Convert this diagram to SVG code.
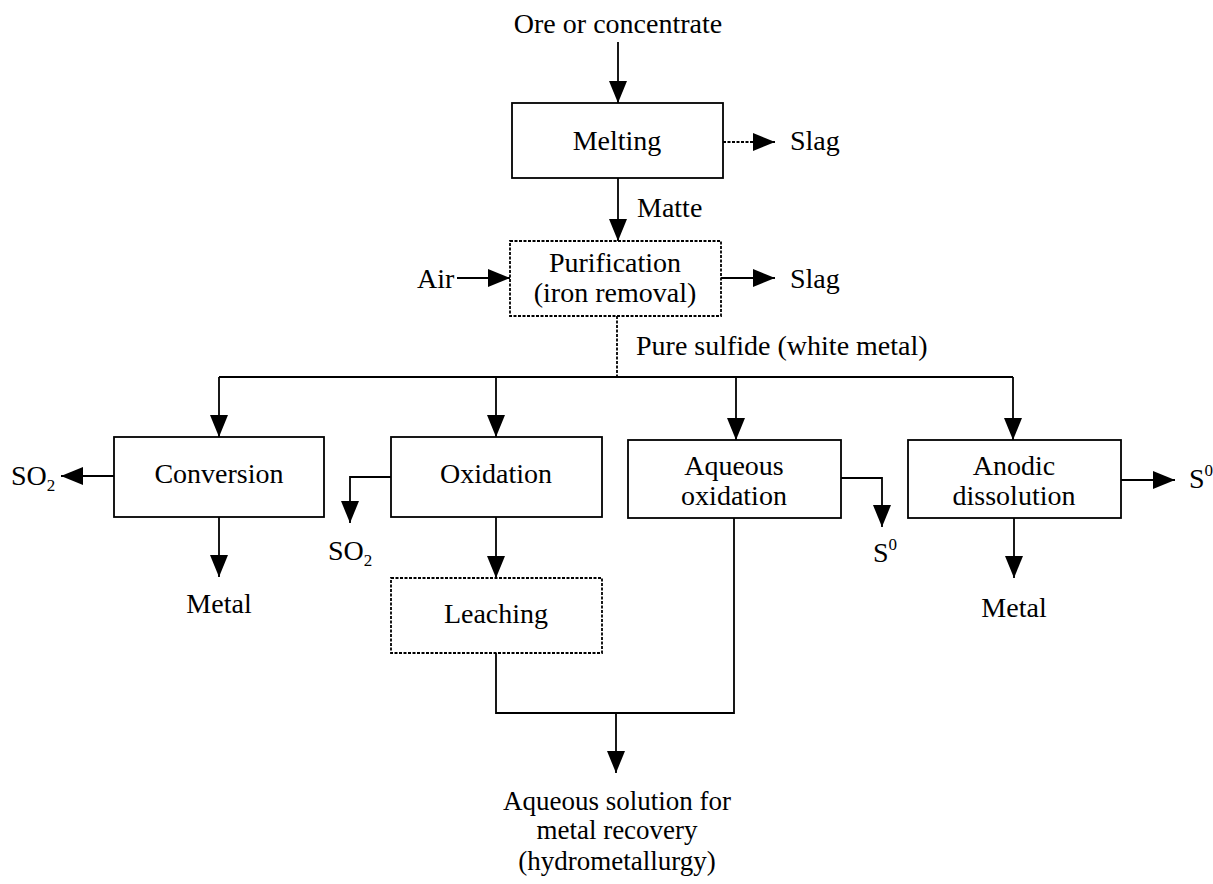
<svg xmlns="http://www.w3.org/2000/svg" width="1213" height="884" viewBox="0 0 1213 884">
<defs>
<marker id="ah" markerUnits="userSpaceOnUse" markerWidth="24" markerHeight="20" refX="22" refY="9" orient="auto">
<path d="M0,0 L22,9 L0,18 z" fill="#000"/>
</marker>
<style>
text{font-family:"Liberation Serif","Times New Roman",serif;font-size:28px;fill:#000}
.c{text-anchor:middle}
.box{fill:#fff;stroke:#000;stroke-width:1.8}
.dot{stroke-dasharray:3 1.5}
.ln{fill:none;stroke:#000;stroke-width:1.8}
.ar{marker-end:url(#ah)}
.sub{font-size:17px}
.sm{font-size:27px}
</style>
</defs>
<rect width="1213" height="884" fill="#fff"/>
<g id="connectors">
<line class="ln ar" x1="618" y1="42" x2="618" y2="103"/>
<line class="ln ar dot" x1="723" y1="142" x2="775" y2="142"/>
<line class="ln ar" x1="618" y1="178" x2="618" y2="241"/>
<line class="ln ar" x1="457" y1="278" x2="510" y2="278"/>
<line class="ln ar" x1="721" y1="278" x2="775" y2="278"/>
<line class="ln dot" x1="617" y1="316" x2="617" y2="377"/>
<line class="ln" x1="219" y1="377" x2="1013" y2="377"/>
<line class="ln ar" x1="219" y1="377" x2="219" y2="437"/>
<line class="ln ar" x1="496" y1="377" x2="496" y2="437"/>
<line class="ln ar" x1="736" y1="377" x2="736" y2="440"/>
<line class="ln ar" x1="1013" y1="377" x2="1013" y2="440"/>
<line class="ln ar" x1="114" y1="476" x2="61" y2="476"/>
<line class="ln ar" x1="219" y1="517" x2="219" y2="577"/>
<polyline class="ln ar" points="391,477 350,477 350,523"/>
<line class="ln ar" x1="496" y1="517" x2="496" y2="578"/>
<polyline class="ln ar" points="841,478 882,478 882,527"/>
<line class="ln ar" x1="1121" y1="480" x2="1175" y2="480"/>
<line class="ln ar" x1="1014" y1="518" x2="1014" y2="578"/>
<polyline class="ln" points="496,653 496,713 734,713 734,518"/>
<line class="ln ar" x1="616" y1="713" x2="616" y2="773"/>
</g>
<g id="ore"><text class="c" x="618" y="33">Ore or concentrate</text></g>
<g id="melting"><rect class="box" x="512" y="103" width="211" height="75"/><text class="c" x="617" y="150">Melting</text></g>
<g id="slag1"><text x="790" y="150">Slag</text></g>
<g id="matte"><text x="637" y="217">Matte</text></g>
<g id="purification"><rect class="box dot" x="510" y="241" width="211" height="75"/><text class="c" x="615" y="272">Purification</text><text class="c" x="615" y="302">(iron removal)</text></g>
<g id="air"><text x="417" y="288">Air</text></g>
<g id="slag2"><text x="790" y="288">Slag</text></g>
<g id="puresulfide"><text x="636" y="355">Pure sulfide (white metal)</text></g>
<g id="conversion"><rect class="box" x="114" y="437" width="210" height="80"/><text class="c" x="219" y="483">Conversion</text></g>
<g id="so2a"><text x="11" y="485">SO<tspan class="sub" dy="6">2</tspan></text></g>
<g id="metal1"><text class="c" x="219" y="613">Metal</text></g>
<g id="oxidation"><rect class="box" x="391" y="437" width="211" height="80"/><text class="c" x="496" y="483">Oxidation</text></g>
<g id="so2b"><text x="328" y="560">SO<tspan class="sub" dy="6">2</tspan></text></g>
<g id="leaching"><rect class="box dot" x="391" y="578" width="211" height="75"/><text class="c" x="496" y="623">Leaching</text></g>
<g id="aqueous"><rect class="box" x="628" y="440" width="213" height="78"/><text class="c" x="734" y="475">Aqueous</text><text class="c" x="734" y="505">oxidation</text></g>
<g id="s0a"><text x="873" y="562">S<tspan class="sub" dy="-12">0</tspan></text></g>
<g id="anodic"><rect class="box" x="908" y="440" width="213" height="78"/><text class="c" x="1014" y="475">Anodic</text><text class="c" x="1014" y="505">dissolution</text></g>
<g id="s0b"><text x="1189" y="488">S<tspan class="sub" dy="-12">0</tspan></text></g>
<g id="metal2"><text class="c" x="1014" y="617">Metal</text></g>
<g id="solution"><text class="c sm" x="617" y="810">Aqueous solution for</text><text class="c sm" x="617" y="839">metal recovery</text><text class="c sm" x="617" y="870">(hydrometallurgy)</text></g>
</svg>
